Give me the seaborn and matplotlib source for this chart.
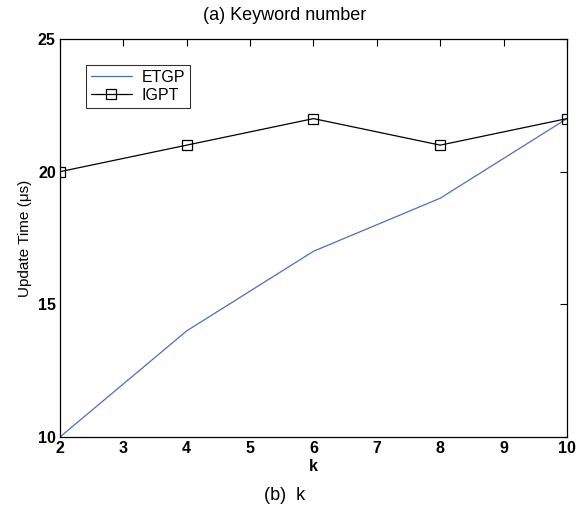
import matplotlib
matplotlib.use("Agg")
import matplotlib.pyplot as plt
import seaborn as sns
import pandas as pd
from matplotlib import font_manager

k_values = [2, 4, 6, 8, 10]
etgp = [10, 14, 17, 19, 22]
igpt = [20, 21, 22, 21, 22]

sns.set_theme(style="white")
names = {f.name for f in font_manager.fontManager.ttflist}
fam = ['Liberation Sans Narrow', 'Liberation Sans', 'DejaVu Sans'] if 'Liberation Sans Narrow' in names else ['Liberation Sans', 'DejaVu Sans']
plt.rcParams['font.family'] = fam
plt.rcParams['text.color'] = 'black'
plt.rcParams['axes.labelcolor'] = 'black'

df = pd.DataFrame({"k": k_values * 2,
                   "val": etgp + igpt,
                   "series": ["ETGP"] * len(k_values) + ["IGPT"] * len(k_values)})

fig = plt.figure(figsize=(5.84, 5.08), dpi=100)
ax = fig.add_axes([0.1027, 0.1398, 0.8682, 0.7834])

sns.lineplot(data=df[df.series == "ETGP"], x="k", y="val", ax=ax, color="#4a6fc0",
             linewidth=0.9, label="ETGP")
sns.lineplot(data=df[df.series == "IGPT"], x="k", y="val", ax=ax, color="black",
             linewidth=0.9, marker="s", markersize=7, markerfacecolor="none",
             markeredgecolor="black", markeredgewidth=0.9, label="IGPT")

ax.set_xlim(2, 10)
ax.set_ylim(10, 25)
ax.set_xticks(range(2, 11))
ax.set_yticks([10, 15, 20, 25])
ax.tick_params(direction="in", length=5, width=0.8, top=True, right=True,
               labelsize=11.5, colors="black", pad=3)
for lbl in ax.get_xticklabels() + ax.get_yticklabels():
    lbl.set_fontweight("bold")
for s in ax.spines.values():
    s.set_color("black")
    s.set_linewidth(0.9)
    s.set_visible(True)

ax.set_xlabel("k", fontsize=11.5, fontweight="bold", labelpad=2, color="black")
ax.set_ylabel("Update Time (\u03bcs)", fontsize=11, labelpad=4, color="black")

leg = ax.legend(loc="upper left", bbox_to_anchor=(0.035, 0.955), frameon=True,
                fancybox=False, edgecolor="black", fontsize=11.5, handlelength=2.6,
                borderpad=0.3, labelspacing=0.2, handletextpad=0.6)
leg.get_frame().set_linewidth(0.8)
for t in leg.get_texts():
    t.set_color("black")

fig.text(0.488, 0.97, "(a) Keyword number", ha="center", va="center", fontsize=13, color="black")
fig.text(0.488, 0.025, "(b)  k", ha="center", va="center", fontsize=13, color="black")

fig.savefig("out.png", dpi=100)
